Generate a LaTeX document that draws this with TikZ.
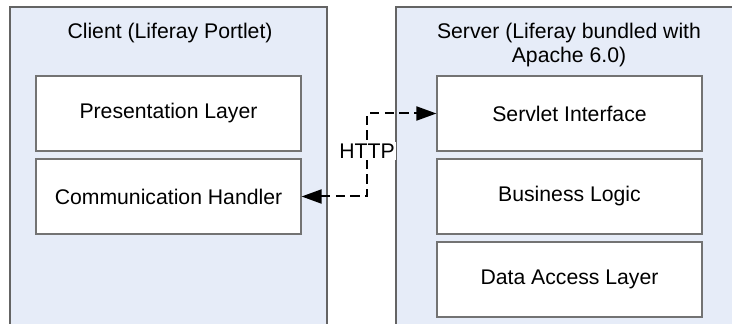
\documentclass[tikz,border=0pt]{standalone}
\usepackage{fontspec}
\setmainfont{Liberation Sans}
\usepackage{tikz}
\usetikzlibrary{arrows.meta}

\definecolor{tierfill}{RGB}{230,236,248}
\definecolor{tierline}{RGB}{100,100,100}
\definecolor{layerline}{RGB}{115,115,115}

\tikzset{
  tier/.style={draw=tierline, fill=tierfill, line width=0.9pt},
  layer/.style={draw=layerline, fill=white, line width=0.9pt,
    minimum width=198.75pt, minimum height=56.25pt, inner sep=0pt},
  tiertitle/.style={inner sep=0pt, align=center},
  http/.style={dash pattern=on 7pt off 4pt, line width=1.5pt,
    {Triangle[length=15pt,width=10.5pt]}-{Triangle[length=15pt,width=10.5pt]}},
}

\begin{document}
\begin{tikzpicture}[x=0.75pt,y=0.75pt,yscale=-1,xscale=1,
  every node/.append style={font=\fontsize{15.9}{18}\selectfont}]
\useasboundingbox (0,0) rectangle (732,324);

%Shape: client tier
\draw [tier] (10,7) -- (327,7) -- (327,340) -- (10,340) -- cycle ;
%Shape: server tier
\draw [tier] (396,7) -- (750,7) -- (750,340) -- (396,340) -- cycle ;

% Tier titles
\node [tiertitle] (clienttitle) at (170,33) {Client (Liferay Portlet)};
\node [tiertitle] (servertitle) at (569,45) {Server (Liferay bundled with\\Apache 6.0)};

% Client layers
\node [layer] (presentation) at (168.5,113.5) {Presentation Layer};
\node [layer] (comm) at (168.5,196.5) {Communication Handler};

% Server layers
\node [layer] (servlet) at (569.5,113.5) {Servlet Interface};
\node [layer] (business) at (569.5,196.5) {Business Logic};
\node [layer] (dataaccess) at (569.5,279.5) {Data Access Layer};

% HTTP link
\coordinate (bend) at (367,151);
\draw [http] (comm.east) -| (bend) |- (servlet.west);
\node [fill=white, inner sep=1pt] (httplabel) at (bend) {HTTP};

\end{tikzpicture}
\end{document}
